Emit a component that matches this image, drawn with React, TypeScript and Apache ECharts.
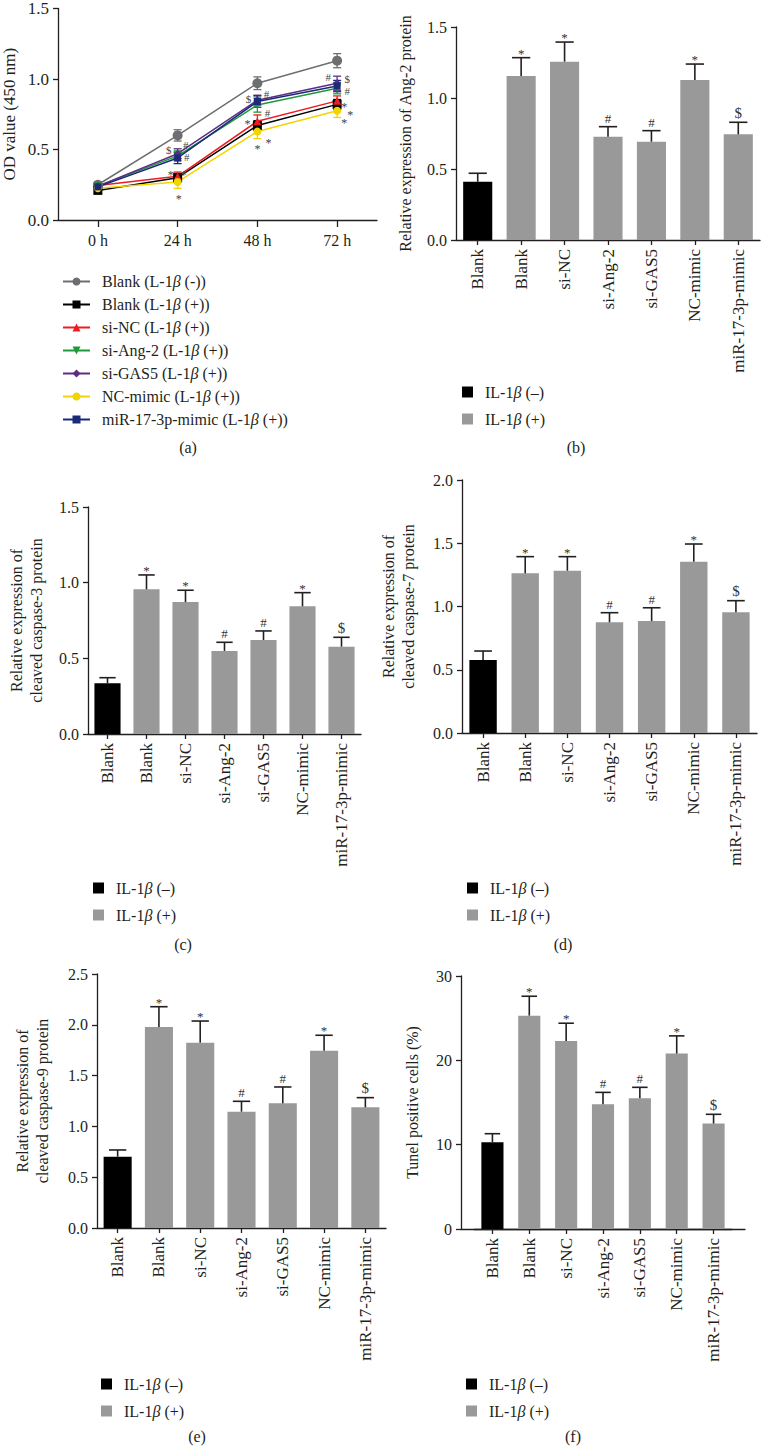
import React, { useEffect, useRef } from 'react';
import * as echarts from 'echarts';

const FONT = '"Liberation Serif", "DejaVu Serif", serif';
const TXT = '#231f20';

// ---------- Panel (a): OD value time course ----------
const timePoints = ['0 h', '24 h', '48 h', '72 h'];
const lineNames = [
  'Blank (L-1β (-))',
  'Blank (L-1β (+))',
  'si-NC (L-1β (+))',
  'si-Ang-2 (L-1β (+))',
  'si-GAS5 (L-1β (+))',
  'NC-mimic (L-1β (+))',
  'miR-17-3p-mimic (L-1β (+))',
];
const odBlankMinus = [0.25, 0.6, 0.97, 1.13];
const odBlankPlus = [0.21, 0.3, 0.67, 0.82];
const odSiNC = [0.245, 0.31, 0.7, 0.845];
const odSiAng2 = [0.24, 0.455, 0.815, 0.935];
const odSiGAS5 = [0.24, 0.47, 0.85, 0.97];
const odNCMimic = [0.225, 0.27, 0.627, 0.775];
const odMirMimic = [0.235, 0.44, 0.84, 0.95];
const errBlankMinus = [0.02, 0.04, 0.045, 0.05];
const errBlankPlus = [0.02, 0.03, 0.035, 0.035];
const errSiNC = [0.02, 0.03, 0.045, 0.035];
const errSiAng2 = [0.02, 0.035, 0.05, 0.04];
const errSiGAS5 = [0.02, 0.035, 0.035, 0.05];
const errNCMimic = [0.02, 0.045, 0.05, 0.048];
const errMirMimic = [0.02, 0.04, 0.04, 0.04];
const odSeries = [odBlankMinus, odBlankPlus, odSiNC, odSiAng2, odSiGAS5, odNCMimic, odMirMimic];
const odErrors = [errBlankMinus, errBlankPlus, errSiNC, errSiAng2, errSiGAS5, errNCMimic, errMirMimic];

// significance marks in panel (a): time index, value, text
const annoTime = [1, 1, 1, 1, 1, 1, 2, 2, 2, 2, 2, 2, 3, 3, 3, 3, 3, 3];
const annoValue = [0.5, 0.535, 0.444, 0.35, 0.35, 0.175, 0.86, 0.895, 0.76, 0.71, 0.535, 0.577, 1.014, 1.003, 0.912, 0.831, 0.775, 0.718];
const annoText = ['$', '#', '#', '*', '*', '*', '$', '#', '#', '*', '*', '*', '#', '$', '#', '*', '*', '*'];

// ---------- Bar panels (b)-(f) ----------
const barCategories = ['Blank', 'Blank', 'si-NC', 'si-Ang-2', 'si-GAS5', 'NC-mimic', 'miR-17-3p-mimic'];
const barMarks = ['', '*', '*', '#', '#', '*', '$'];
const legendNames = ['IL-1β (–)', 'IL-1β (+)'];

const ang2Mean = [0.41, 1.155, 1.256, 0.727, 0.692, 1.127, 0.744];
const ang2Upper = [0.47, 1.284, 1.394, 0.798, 0.77, 1.239, 0.829];
const casp3Mean = [0.335, 0.956, 0.872, 0.549, 0.621, 0.844, 0.577];
const casp3Upper = [0.372, 1.051, 0.95, 0.606, 0.681, 0.934, 0.639];
const casp7Mean = [0.577, 1.262, 1.283, 0.875, 0.885, 1.354, 0.954];
const casp7Upper = [0.648, 1.394, 1.394, 0.951, 0.99, 1.494, 1.046];
const casp9Mean = [0.702, 1.978, 1.824, 1.145, 1.227, 1.745, 1.188];
const casp9Upper = [0.768, 2.178, 2.037, 1.247, 1.388, 1.897, 1.283];
const tunelMean = [10.3, 25.3, 22.3, 14.8, 15.5, 20.8, 12.5];
const tunelUpper = [11.3, 27.6, 24.4, 16.2, 16.8, 22.9, 13.6];

// styling (not data)
const lineColors = ['#6d6e71', '#000000', '#ed1c24', '#1f9a3a', '#5c2d83', '#f2d400', '#1b2a78'];
const lineSymbols = ['circle', 'rect', 'triangle', 'triangle', 'diamond', 'circle', 'rect'];
const lineSymbolRotate = [0, 0, 0, 180, 0, 0, 0];
const lineSymbolSize = [10, 9, 8, 8, 8, 8, 7];
const annoShift = [-9, 8, 9, -7, 6, 1, -9, 9, 10, -10, 0, 11, -9, 10, 10, 7, 13, 7];

const betaFormatter = (name: string) => name.replace('β', '{i|β}');

function App() {
  const ref = useRef<HTMLDivElement>(null);
  useEffect(() => {
    if (!ref.current) return;
    const chart = echarts.init(ref.current, null, { renderer: 'svg' });

    const axisLine = { show: true, lineStyle: { color: TXT, width: 1.3 } };
    const axisTick = { show: true, length: 5, lineStyle: { color: TXT, width: 1.3 } };

    const grids: any[] = [];
    const xAxes: any[] = [];
    const yAxes: any[] = [];
    const series: any[] = [];
    const legends: any[] = [];

    // ----- panel (a)
    grids.push({ left: 57, top: 7, width: 320, height: 213 });
    xAxes.push({
      type: 'category', gridIndex: 0, data: timePoints,
      axisLine, axisTick: { ...axisTick, alignWithLabel: true, length: 7 },
      axisLabel: { fontFamily: FONT, fontSize: 16, color: TXT, margin: 12 },
    });
    yAxes.push({
      type: 'value', gridIndex: 0, min: 0, max: 1.5, interval: 0.5,
      axisLine, axisTick, splitLine: { show: false },
      axisLabel: { fontFamily: FONT, fontSize: 17, color: TXT, margin: 9, formatter: (v: number) => v.toFixed(1) },
      name: 'OD value (450 nm)', nameLocation: 'middle', nameGap: 40,
      nameTextStyle: { fontFamily: FONT, fontSize: 17, color: TXT },
    });
    const errData: any[] = [];
    odSeries.forEach((vals, si) => {
      vals.forEach((v, ti) => errData.push([ti, v - odErrors[si][ti], v + odErrors[si][ti], si]));
    });
    series.push({
      type: 'custom', xAxisIndex: 0, yAxisIndex: 0, data: errData,
      encode: { x: 0, y: [1, 2] }, silent: true, z: 1,
      renderItem: (params: any, api: any) => {
        const lo = api.coord([api.value(0), api.value(1)]);
        const hi = api.coord([api.value(0), api.value(2)]);
        const color = lineColors[api.value(3)];
        const st = { stroke: color, lineWidth: 1.3 };
        return {
          type: 'group', children: [
            { type: 'line', shape: { x1: lo[0], y1: lo[1], x2: hi[0], y2: hi[1] }, style: st },
            { type: 'line', shape: { x1: lo[0] - 4, y1: lo[1], x2: lo[0] + 4, y2: lo[1] }, style: st },
            { type: 'line', shape: { x1: hi[0] - 4, y1: hi[1], x2: hi[0] + 4, y2: hi[1] }, style: st },
          ],
        };
      },
    });
    odSeries.forEach((vals, si) => {
      series.push({
        type: 'line', name: lineNames[si], xAxisIndex: 0, yAxisIndex: 0, data: vals,
        symbol: lineSymbols[si], symbolSize: lineSymbolSize[si], symbolRotate: lineSymbolRotate[si],
        showAllSymbol: true,
        lineStyle: { color: lineColors[si], width: 1.5 },
        itemStyle: { color: lineColors[si] }, z: 3,
      });
    });
    series.push({
      type: 'custom', xAxisIndex: 0, yAxisIndex: 0, silent: true, z: 4,
      data: annoTime.map((t, i) => [t, annoValue[i]]),
      encode: { x: 0, y: 1 },
      renderItem: (params: any, api: any) => {
        const p = api.coord([api.value(0), api.value(1)]);
        const t = annoText[params.dataIndex];
        const isStar = t === '*';
        return {
          type: 'text', x: p[0] + annoShift[params.dataIndex], y: p[1] + (isStar ? 4 : 0),
          style: {
            text: t, align: 'center', verticalAlign: 'middle', fontFamily: FONT,
            fontSize: isStar ? 12 : 11, fill: '#444',
          },
        };
      },
    });
    legends.push({
      data: lineNames, orient: 'vertical', left: 57, top: 268, itemWidth: 27, itemHeight: 10, itemGap: 6,
      selectedMode: false,
      formatter: betaFormatter,
      textStyle: {
        fontFamily: FONT, fontSize: 16, color: TXT, lineHeight: 17, padding: [0, 0, 0, 7],
        rich: { i: { fontFamily: FONT, fontSize: 16, fontStyle: 'italic', lineHeight: 17, color: TXT } },
      },
    });

    // ----- bar panels
    type BarPanel = {
      grid: any; yMax: number; yInterval: number; decimals: number; title: string; nameGap: number;
      mean: number[]; upper: number[]; barWidth: string; yOffset?: number; legend: any;
    };
    const panels: BarPanel[] = [
      { grid: { left: 456, top: 27, width: 304, height: 213 }, yMax: 1.5, yInterval: 0.5, decimals: 1,
        title: 'Relative expression of Ang-2 protein', nameGap: 41, mean: ang2Mean, upper: ang2Upper, barWidth: '67%',
        legend: { left: 457, top: 378 } },
      { grid: { left: 88, top: 507, width: 273, height: 227 }, yMax: 1.5, yInterval: 0.5, decimals: 1,
        title: 'Relative expression of\ncleaved caspase-3 protein', nameGap: 42, mean: casp3Mean, upper: casp3Upper, barWidth: '67%',
        legend: { left: 88, top: 874 } },
      { grid: { left: 462, top: 480, width: 295, height: 253 }, yMax: 2.0, yInterval: 0.5, decimals: 1,
        title: 'Relative expression of\ncleaved caspase-7 protein', nameGap: 44, mean: casp7Mean, upper: casp7Upper, barWidth: '65%',
        legend: { left: 462, top: 874 } },
      { grid: { left: 97, top: 974, width: 289, height: 254 }, yMax: 2.5, yInterval: 0.5, decimals: 1,
        title: 'Relative expression of\ncleaved caspase-9 protein', nameGap: 45, mean: casp9Mean, upper: casp9Upper, barWidth: '68%',
        legend: { left: 96, top: 1370 } },
      { grid: { left: 474, top: 976, width: 258, height: 253 }, yMax: 30, yInterval: 10, decimals: 0,
        title: 'Tunel positive cells (%)', nameGap: 39, mean: tunelMean, upper: tunelUpper, barWidth: '60%', yOffset: 13,
        legend: { left: 461, top: 1370 } },
    ];

    panels.forEach((p, k) => {
      const gi = grids.length;
      grids.push(p.grid);
      xAxes.push({
        type: 'category', gridIndex: gi, data: barCategories,
        axisLine, axisTick: { ...axisTick, alignWithLabel: true },
        axisLabel: { fontFamily: FONT, fontSize: 17, color: TXT, rotate: 90, margin: 9, interval: 0 },
      });
      yAxes.push({
        type: 'value', gridIndex: gi, min: 0, max: p.yMax, interval: p.yInterval, offset: p.yOffset || 0,
        axisLine, axisTick, splitLine: { show: false },
        axisLabel: { fontFamily: FONT, fontSize: 16, color: TXT, margin: 9, formatter: (v: number) => v.toFixed(p.decimals) },
        name: p.title, nameLocation: 'middle', nameGap: p.nameGap,
        nameTextStyle: { fontFamily: FONT, fontSize: 16, color: TXT, lineHeight: 20 },
      });
      const stack = 'st' + k;
      series.push({
        type: 'bar', name: legendNames[0], xAxisIndex: gi, yAxisIndex: gi, stack, barWidth: p.barWidth,
        data: p.mean.map((v, i) => (i === 0 ? v : '-')), itemStyle: { color: '#000000' },
      });
      series.push({
        type: 'bar', name: legendNames[1], xAxisIndex: gi, yAxisIndex: gi, stack, barWidth: p.barWidth,
        data: p.mean.map((v, i) => (i === 0 ? '-' : v)), itemStyle: { color: '#999999' },
      });
      series.push({
        type: 'custom', xAxisIndex: gi, yAxisIndex: gi, silent: true, z: 5,
        data: p.mean.map((v, i) => [i, v, p.upper[i]]),
        encode: { x: 0, y: [1, 2] },
        renderItem: (params: any, api: any) => {
          const p0 = api.coord([api.value(0), api.value(1)]);
          const p1 = api.coord([api.value(0), api.value(2)]);
          const band = api.size([1, 0])[0];
          const cap = band * 0.42;
          const st = { stroke: TXT, lineWidth: 1.6 };
          const mark = barMarks[params.dataIndex];
          return {
            type: 'group', children: [
              { type: 'line', shape: { x1: p0[0], y1: p0[1], x2: p1[0], y2: p1[1] }, style: st },
              { type: 'line', shape: { x1: p1[0] - cap / 2, y1: p1[1], x2: p1[0] + cap / 2, y2: p1[1] }, style: st },
              { type: 'text', x: p1[0], y: p1[1] - (mark === '*' ? -2 : 2),
                style: { text: mark, align: 'center', verticalAlign: 'bottom', fontFamily: FONT,
                  fontSize: mark === '$' ? 15 : 13, fill: '#333' } },
            ],
          };
        },
      });
      legends.push({
        data: legendNames, orient: 'vertical', left: p.legend.left, top: p.legend.top,
        itemWidth: 11, itemHeight: 11, itemGap: 9, icon: 'rect', selectedMode: false,
        formatter: betaFormatter,
        textStyle: {
          fontFamily: FONT, fontSize: 16, color: TXT, lineHeight: 18, padding: [0, 0, 0, 7],
          rich: { i: { fontFamily: FONT, fontSize: 16, fontStyle: 'italic', lineHeight: 18, color: TXT } },
        },
      });
    });

    // extended baseline for panel (f)
    const gExt = grids.length;
    grids.push({ left: 461, top: 976, width: 284, height: 253 });
    xAxes.push({ type: 'value', gridIndex: gExt, min: 0, max: 1, axisLine, axisTick: { show: false }, axisLabel: { show: false }, splitLine: { show: false } });
    yAxes.push({ type: 'value', gridIndex: gExt, min: 0, max: 1, show: false });

    const panelLabel = (text: string, x: number, y: number) => ({
      type: 'text', x, y,
      style: { text, align: 'center', verticalAlign: 'middle', fontFamily: FONT, fontSize: 16, fill: TXT },
    });

    chart.setOption({
      animation: false,
      backgroundColor: '#ffffff',
      grid: grids,
      xAxis: xAxes,
      yAxis: yAxes,
      legend: legends,
      series,
      graphic: [
        panelLabel('(a)', 188, 447),
        panelLabel('(b)', 576, 447),
        panelLabel('(c)', 183, 944),
        panelLabel('(d)', 563, 944),
        panelLabel('(e)', 197, 1436),
        panelLabel('(f)', 573, 1436),
      ],
    });
    return () => chart.dispose();
  }, []);
  return <div ref={ref} style={{ position: 'absolute', left: 0, top: 0, width: 761, height: 1446, background: '#fff' }} />;
}

export default App;
